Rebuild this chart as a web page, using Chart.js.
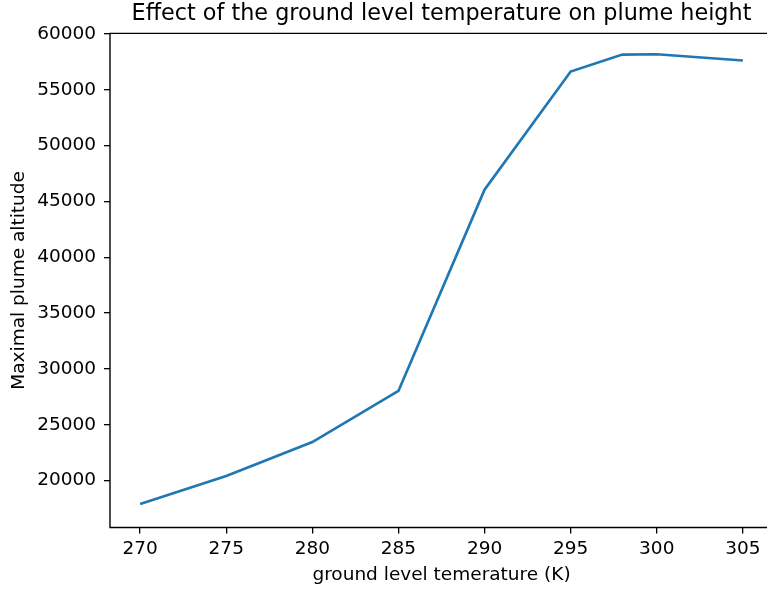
<!DOCTYPE html>
<html>
<head>
<meta charset="utf-8">
<script src="https://cdn.jsdelivr.net/npm/chart.js@4/dist/chart.umd.min.js"></script>
<style>
  html, body { margin: 0; padding: 0; background: #fff; overflow: hidden; }
  #wrap { width: 767px; height: 591px; overflow: hidden; }
</style>
</head>
<body>
<div id="wrap"><canvas id="plume" width="780" height="591"></canvas></div>
<script>
// ground level temperature (K) and max plume altitude
var temps   = [270, 275, 280, 285, 290, 295, 298, 300, 305];
var heights = [17900, 20420, 23450, 28030, 46050, 56630, 58150, 58180, 57620];

var xTicks = [270, 275, 280, 285, 290, 295, 300, 305];
var yTicks = [20000, 25000, 30000, 35000, 40000, 45000, 50000, 55000, 60000];

var points = temps.map(function (t, i) { return { x: t, y: heights[i] }; });

// left, top and bottom frame lines (the right one is cut off in the original)
var spines = {
  id: 'spines',
  afterDraw: function (chart) {
    var a = chart.chartArea, ctx = chart.ctx;
    ctx.save();
    ctx.strokeStyle = '#000';
    ctx.lineWidth = 1.4;
    ctx.beginPath();
    ctx.moveTo(a.right, a.top);
    ctx.lineTo(a.left, a.top);
    ctx.lineTo(a.left, a.bottom);
    ctx.lineTo(a.right, a.bottom);
    ctx.stroke();
    ctx.restore();
  }
};

Chart.defaults.font.family = '"DejaVu Sans", sans-serif';
Chart.defaults.color = '#000';

var ctx = document.getElementById('plume').getContext('2d');
var chart = new Chart(ctx, {
  type: 'line',
  data: {
    datasets: [{
      data: points,
      borderColor: '#1f77b4',
      borderWidth: 2.7,
      pointRadius: 0,
      tension: 0,
      fill: false
    }]
  },
  options: {
    responsive: false,
    animation: false,
    devicePixelRatio: 1,
    layout: { padding: { left: 0, top: 0, right: 7, bottom: 0 } },
    plugins: {
      legend: { display: false },
      tooltip: { enabled: false },
      title: {
        display: true,
        fullSize: false,
        text: 'Effect of the ground level temperature on plume height',
        font: { size: 22.3, weight: 'normal', lineHeight: 1.2 },
        color: '#000',
        padding: { top: 0.6, bottom: 6 }
      }
    },
    scales: {
      x: {
        type: 'linear',
        min: 268.25,
        max: 306.75,
        afterBuildTicks: function (s) { s.ticks = xTicks.map(function (v) { return { value: v }; }); },
        afterFit: function (s) { s.height = 63.5; },
        border: { display: false },
        grid: { drawOnChartArea: false, drawTicks: true, tickLength: 6, color: '#000', lineWidth: 1.3 },
        ticks: { font: { size: 18.5 }, padding: 5, maxRotation: 0, autoSkip: false },
        title: {
          display: true,
          text: 'ground level temerature (K)',
          font: { size: 18.5, lineHeight: 1.2 },
          padding: { top: 0, bottom: 4.6 }
        }
      },
      y: {
        type: 'linear',
        min: 15800,
        max: 60050,
        afterBuildTicks: function (s) { s.ticks = yTicks.map(function (v) { return { value: v }; }); },
        afterFit: function (s) { s.width = 110; },
        border: { display: false },
        grid: { drawOnChartArea: false, drawTicks: true, tickLength: 6, color: '#000', lineWidth: 1.3 },
        ticks: {
          font: { size: 18.5 },
          padding: 8,
          autoSkip: false,
          callback: function (v) { return String(v); }
        },
        title: {
          display: true,
          text: 'Maximal plume altitude',
          font: { size: 18.5, lineHeight: 1.2 },
          padding: { top: 8.5, bottom: 0 }
        }
      }
    }
  },
  plugins: [spines]
});
</script>
</body>
</html>
